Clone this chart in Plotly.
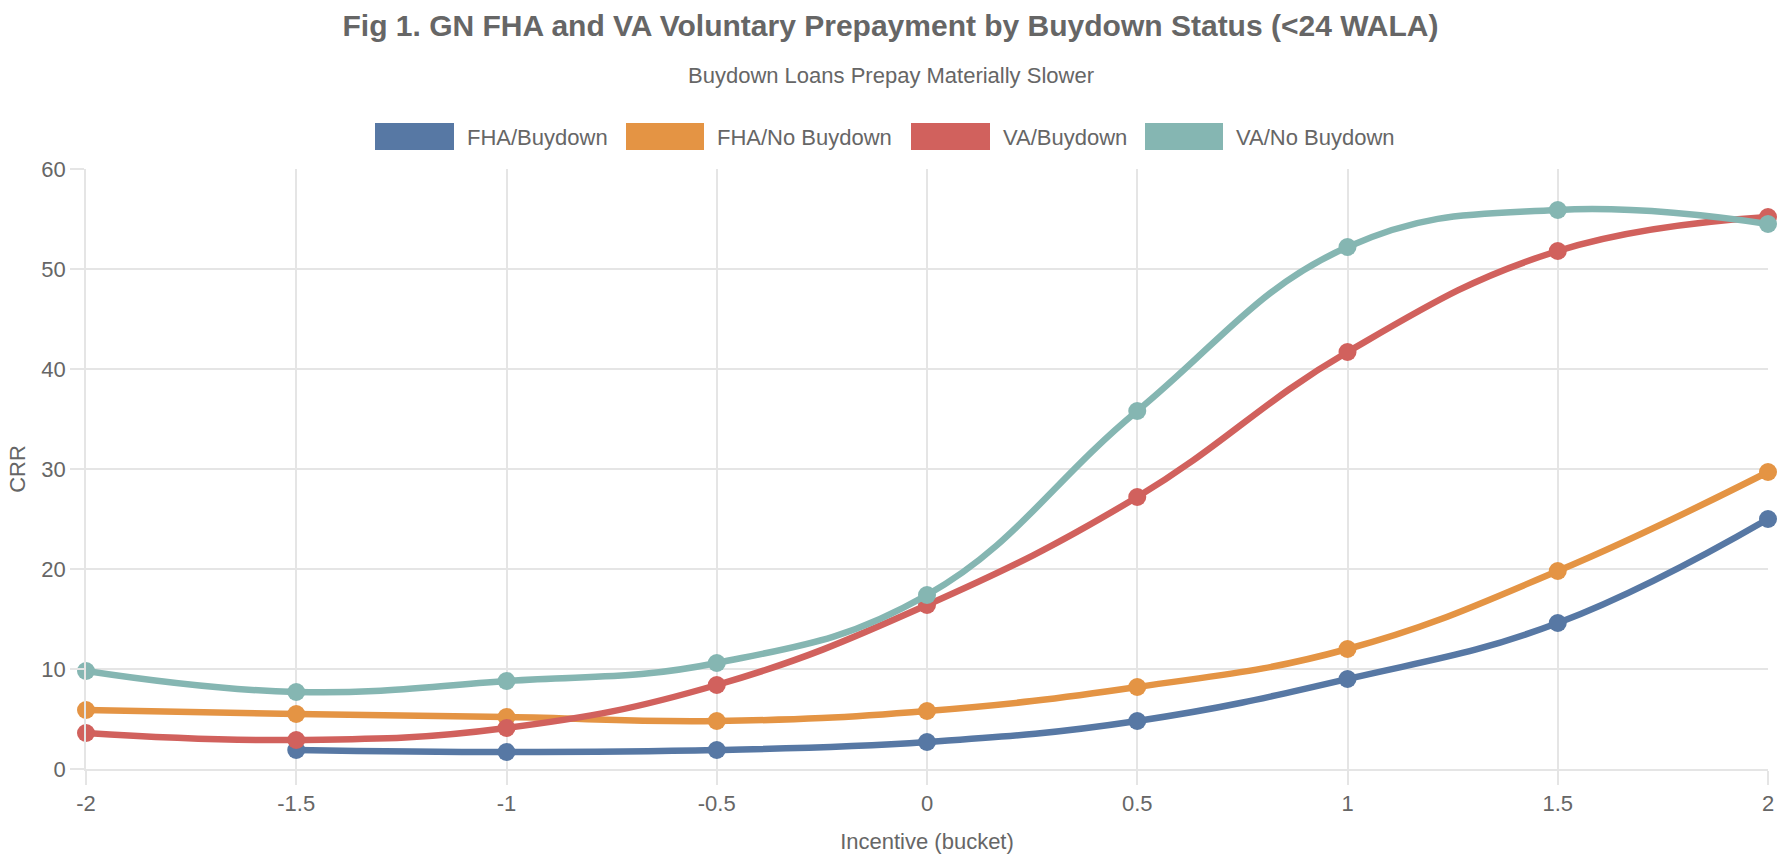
import plotly.graph_objects as go

# ---- data ----
incentive = [-2, -1.5, -1, -0.5, 0, 0.5, 1, 1.5, 2]
tick_labels = ["-2", "-1.5", "-1", "-0.5", "0", "0.5", "1", "1.5", "2"]
y_ticks = [0, 10, 20, 30, 40, 50, 60]

series_names = ["FHA/Buydown", "FHA/No Buydown", "VA/Buydown", "VA/No Buydown"]
fha_buydown = [None, 1.9, 1.7, 1.9, 2.7, 4.8, 9.0, 14.6, 25.0]
fha_no_buydown = [5.9, 5.5, 5.2, 4.8, 5.8, 8.2, 12.0, 19.8, 29.7]
va_buydown = [3.6, 2.9, 4.1, 8.4, 16.4, 27.2, 41.7, 51.8, 55.2]
va_no_buydown = [9.8, 7.7, 8.8, 10.6, 17.4, 35.8, 52.2, 55.9, 54.5]

colors = ["#5778a4", "#e49444", "#d1615d", "#85b6b2"]

title_text = "Fig 1. GN FHA and VA Voluntary Prepayment by Buydown Status (<24 WALA)"
subtitle_text = "Buydown Loans Prepay Materially Slower"
x_title = "Incentive (bucket)"
y_title = "CRR"

# ---- layout geometry ----
W, H = 1781, 859
ML, MR, MT, MB = 86, 13, 169, 90
PW, PH = W - ML - MR, H - MT - MB
FONT = "Liberation Sans, Arial, Helvetica, sans-serif"
TXT = "#666666"
GRID = "#e5e5e5"


def px_x(px):
    return (px - ML) / PW


def px_y(py):
    return (H - MB - py) / PH


fig = go.Figure()
for name, vals, col in zip(series_names,
                           [fha_buydown, fha_no_buydown, va_buydown, va_no_buydown],
                           colors):
    fig.add_trace(go.Scatter(
        x=incentive, y=vals, name=name, mode="lines+markers",
        line=dict(color=col, width=6.5, shape="spline", smoothing=1.2),
        marker=dict(color=col, size=18),
        cliponaxis=False, showlegend=False,
    ))

# custom legend (Chart.js style wide boxes)
legend_boxes = [(375, 454), (626, 704), (911, 990), (1145, 1223)]
shapes = []
annotations = []
for (x0, x1), name, col in zip(legend_boxes, series_names, colors):
    shapes.append(dict(type="rect", xref="paper", yref="paper",
                       x0=px_x(x0), x1=px_x(x1), y0=px_y(150), y1=px_y(123),
                       fillcolor=col, line=dict(width=0), layer="above"))
    annotations.append(dict(text=name, xref="paper", yref="paper",
                            x=px_x(x1 + 11), y=px_y(137), xanchor="left", yanchor="middle",
                            showarrow=False, font=dict(family=FONT, size=22, color=TXT)))

annotations.append(dict(text=subtitle_text, xref="paper", yref="paper",
                        x=px_x(W / 2), y=px_y(76), xanchor="center", yanchor="middle",
                        showarrow=False, font=dict(family=FONT, size=22, color=TXT)))

fig.update_layout(
    width=W, height=H,
    margin=dict(l=ML, r=MR, t=MT, b=MB, autoexpand=False),
    paper_bgcolor="white", plot_bgcolor="white",
    title=dict(text="<b>" + title_text + "</b>", x=0.5, xref="container", xanchor="center",
               y=1 - 25 / H, yref="container", yanchor="middle",
               font=dict(family=FONT, size=30, color=TXT)),
    shapes=shapes, annotations=annotations,
    font=dict(family=FONT, size=22, color=TXT),
    xaxis=dict(range=[-2, 2], tickvals=incentive, ticktext=tick_labels,
               showgrid=True, gridcolor=GRID, gridwidth=1.5, zeroline=False,
               showline=True, linecolor=GRID, linewidth=1.5,
               ticks="outside", ticklen=14, tickcolor=GRID, tickwidth=1.5,
               tickfont=dict(family=FONT, size=22, color=TXT),
               title=dict(text=x_title, standoff=18, font=dict(family=FONT, size=22, color=TXT)),
               automargin=False),
    yaxis=dict(range=[0, 60], tickvals=y_ticks,
               showgrid=True, gridcolor=GRID, gridwidth=1.5, zeroline=False,
               showline=True, linecolor=GRID, linewidth=1.5,
               ticks="outside", ticklen=14, tickcolor=GRID, tickwidth=1.5,
               tickfont=dict(family=FONT, size=22, color=TXT),
               title=dict(text=y_title, standoff=10, font=dict(family=FONT, size=22, color=TXT)),
               automargin=False),
    showlegend=False,
)

fig.write_html("out.html", config={"displayModeBar": False},
               post_script="document.body.style.margin='0';document.body.style.overflow='hidden';")
